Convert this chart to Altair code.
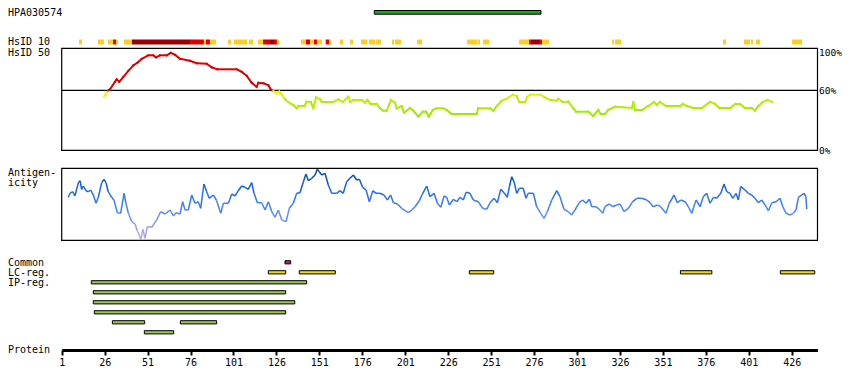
import altair as alt
import pandas as pd

# ---------------- data ----------------
protein_end = 441
antigen_start, antigen_end = 183, 280
antigen_name = "HPA030574"

hsid10_start = [11.1, 22.1, 28.0, 30.9, 32.6, 37.3, 41.9, 75.7, 83.8, 85.0, 87.3, 97.8, 101.3, 110.0,
                115.3, 118.2, 122.3, 124.6, 126.3, 140.3, 143.2, 145.6, 147.9, 149.6, 154.3, 154.9,
                156.6, 163.0, 168.9, 175.3, 179.9, 184.0, 193.3, 195.1, 207.9, 237.0, 243.4, 246.3,
                267.2, 273.1, 274.2, 279.5, 280.6, 321.4, 323.1, 386.0, 398.2, 402.3, 405.2, 426.2]
hsid10_end = [12.8, 25.6, 30.9, 32.6, 33.8, 41.9, 75.7, 83.8, 85.0, 87.3, 90.8, 99.6, 108.9, 112.4,
              118.2, 122.3, 124.6, 126.3, 127.5, 143.2, 145.6, 147.9, 149.6, 152.5, 154.9, 156.6,
              157.8, 164.8, 170.6, 178.7, 183.4, 186.9, 194.5, 198.5, 210.8, 242.8, 244.5, 249.8,
              273.1, 274.2, 279.5, 280.6, 284.7, 322.5, 326.6, 387.8, 401.7, 403.5, 407.6, 432.0]
hsid10_level = ["low", "low", "low", "mid", "low", "low", "high", "mid", "low", "mid", "low", "low", "low", "low",
                "low", "mid", "high", "mid", "low", "low", "mid", "low", "mid", "low", "low", "mid",
                "low", "low", "low", "low", "low", "low", "low", "low", "low", "low", "low", "low",
                "low", "mid", "high", "mid", "low", "low", "low", "low", "low", "low", "low", "low"]

hsid50_pos = [25.6, 28.1, 29.1, 32.0, 33.0, 34.5, 36.9, 39.8, 42.7, 45.0, 47.6, 51.4, 54.3, 55.9, 58.2,
              62.1, 64.5, 67.0, 69.9, 75.7, 79.6, 85.4, 88.3, 91.6, 102.9, 105.8, 108.7, 111.6, 114.5,
              115.5, 118.4, 121.3, 122.7, 124.2, 125.8, 127.7, 131.0, 133.9, 135.8, 137.8, 138.7, 142.4,
              143.6, 146.0, 147.5, 149.1, 151.4, 152.4, 159.1, 162.0, 164.6, 167.9, 168.9, 170.8, 175.7,
              177.6, 178.9, 180.9, 184.4, 186.3, 188.2, 190.2, 192.7, 195.0, 196.0, 198.9, 200.3, 203.8,
              205.7, 208.6, 211.2, 213.1, 214.7, 217.0, 219.3, 223.2, 225.1, 228.1, 242.6, 243.5, 250.4,
              252.3, 254.3, 257.2, 260.1, 263.6, 265.9, 267.4, 270.7, 272.1, 273.6, 279.5, 282.4, 285.3,
              289.2, 290.1, 292.7, 295.9, 298.9, 300.4, 307.6, 310.5, 313.4, 314.8, 317.3, 319.2, 323.1,
              332.9, 333.8, 334.8, 338.7, 342.5, 345.8, 347.4, 349.3, 352.8, 361.0, 362.5, 364.9, 368.7,
              373.6, 378.4, 381.4, 383.9, 390.1, 393.0, 395.9, 398.8, 402.7, 404.6, 406.6, 409.1, 411.8,
              414.7]
hsid50_val = [54, 60, 61, 68.5, 71, 68.5, 73.5, 79.5, 85, 87.5, 91.5, 95, 95, 93, 95,
              95, 97.5, 95.5, 91.5, 89.5, 87, 86.5, 83, 81, 81, 78.5, 74.5, 67.5, 63.5,
              67.5, 67, 65, 61, 59.5, 57, 59, 51, 47, 45.3, 42, 44.3, 44.3,
              48.6, 48.3, 42, 53, 51, 48.3, 48.3, 51, 48.3, 53.6, 48.3, 50.3, 50.3,
              47.6, 50.3, 46.3, 46.3, 42, 39.6, 39.6, 50.3, 47.6, 42, 44.3, 37.6, 42.3,
              39.6, 33.6, 38.6, 38.6, 33.6, 40.3, 42, 42, 40.3, 36.3, 36.3, 42, 42,
              39.6, 44.3, 49.6, 51.6, 55.6, 54.3, 48.3, 48.3, 53.6, 55.6, 55.6, 53, 50.3,
              49.6, 51.6, 48.3, 48.6, 42, 38.6, 38.6, 34.3, 40.3, 36.3, 36.3, 40.3, 43.6,
              42.3, 48.3, 40.3, 40.3, 44.3, 48.3, 45.3, 48.3, 44.3, 44.3, 46.3, 44.3, 42.3,
              42.3, 48.3, 46.3, 42.3, 42.3, 46.3, 46.3, 42.3, 42.3, 39.6, 44.3, 48.3, 50.3,
              48.3]

antig_pos = [4.8, 5.8, 7.4, 8.7, 10.7, 11.7, 12.6, 13.6, 15.1, 16.5, 17.9, 19.4, 21.0, 22.3, 24.3, 25.6,
             26.8, 28.1, 30.1, 31.4, 33.4, 35.3, 37.3, 38.4, 39.8, 41.8, 43.7, 45.0, 46.2, 47.0, 48.2,
             49.5, 50.8, 53.4, 56.3, 58.6, 61.1, 64.1, 66.0, 67.5, 69.9, 71.4, 72.8, 74.7, 76.7, 78.6,
             80.5, 81.9, 83.8, 85.4, 86.9, 89.3, 91.2, 93.6, 95.1, 98.0, 100.0, 101.9, 103.8, 105.8,
             107.7, 109.6, 111.6, 113.0, 114.9, 117.4, 119.4, 121.3, 123.3, 125.2, 127.1, 129.1, 131.6,
             133.5, 135.8, 137.8, 139.7, 141.7, 143.2, 144.6, 146.6, 148.5, 149.8, 151.0, 152.4, 154.3,
             156.2, 158.2, 161.1, 163.0, 164.9, 166.9, 168.8, 170.8, 172.7, 174.3, 176.2, 178.2, 180.1,
             182.1, 184.0, 186.3, 188.6, 190.6, 192.5, 194.1, 196.4, 198.9, 200.9, 202.8, 204.8, 206.7,
             209.2, 211.2, 213.5, 215.4, 217.8, 219.7, 221.7, 223.6, 225.1, 226.7, 229.0, 231.0, 232.9,
             234.8, 236.4, 238.7, 240.6, 243.5, 246.1, 248.4, 250.4, 252.7, 254.6, 256.6, 258.5, 260.4,
             261.6, 263.0, 264.3, 265.9, 267.4, 269.7, 271.3, 272.6, 275.6, 277.5, 279.9, 281.8, 283.7,
             286.3, 289.2, 291.1, 293.4, 295.9, 297.9, 299.8, 302.3, 304.3, 306.2, 308.2, 309.6, 312.1,
             314.4, 316.0, 317.3, 319.8, 321.8, 324.1, 326.0, 328.4, 330.9, 333.4, 335.8, 338.7, 341.6,
             343.5, 345.4, 347.8, 349.7, 352.8, 354.7, 357.5, 359.4, 361.4, 363.9, 365.8, 367.8, 370.3,
             372.6, 374.5, 376.5, 378.4, 380.4, 382.3, 384.7, 386.6, 388.2, 390.1, 391.7, 393.6, 394.9,
             396.3, 398.8, 400.7, 402.7, 404.6, 406.6, 408.5, 410.5, 412.4, 414.4, 416.9, 419.2, 420.8,
             422.7, 425.0, 426.9, 428.5, 429.9, 431.8, 433.2, 434.3, 434.7]
antig_val = [43, 47, 48.6, 44.3, 57.6, 59.6, 51, 54.3, 49.6, 48.6, 50.3, 45.3, 37, 43, 57.6, 61,
             57.6, 48.6, 43, 40.3, 27.6, 27, 47, 37, 27, 18.6, 16.3, 9.6, 5.3, 0.3, 11,
             2, 13.6, 13, 20.3, 28.6, 26.3, 30.3, 24.3, 27.6, 26.3, 38.6, 30.3, 30.3, 45.3, 37,
             38.6, 32, 56.3, 48.6, 42, 45.3, 39.6, 27, 37, 37, 46.3, 44.3, 49.6, 54.3,
             53, 51, 57.6, 47, 37.6, 37.6, 30.3, 38.6, 28.6, 23, 30.3, 20.3, 18.6,
             32, 37, 47, 47.6, 58.6, 66.3, 59.6, 62, 65.3, 71, 68.6, 65.3, 67,
             55.3, 47, 47, 49.6, 47, 58.6, 62, 65.3, 60.3, 61, 53, 50.3, 38.6,
             49.6, 47, 47, 45.3, 40.3, 45.3, 37.6, 36.3, 32, 29.6, 27.6, 30.3, 33.6,
             39.6, 47, 54.3, 43.6, 47, 37, 33, 44.3, 43, 35.3, 41, 38.6, 43,
             40.3, 48, 47, 40.3, 38.6, 32, 31, 37.6, 42, 37.6, 51, 47.6, 43,
             53.6, 63.6, 58.6, 47, 52, 52, 42, 47, 47, 33.6, 27, 22, 28.6,
             40.3, 49.6, 43.6, 31, 28.6, 25.3, 30.3, 37.6, 40.3, 37, 41, 33.6, 33.6,
             30.3, 27, 33.6, 36.3, 33.6, 35.3, 36.3, 28.6, 32, 38.6, 42, 42, 40.3,
             37.6, 33.6, 35.3, 33.6, 27, 37, 45.3, 37.6, 40.3, 38.6, 33.6, 27, 40.3,
             33.6, 43.6, 47, 37, 43, 42, 47, 56.3, 48.6, 47, 42, 47, 40.3,
             53.6, 50.3, 47, 45.3, 42, 37.6, 40.3, 35.3, 29.6, 37.6, 38.6, 42, 33.6,
             27, 25.3, 27, 30.3, 43, 45.3, 47, 43.6, 31]

common_start = [131.0]
common_end = [134.3]
lc_start = [121.3, 139.3, 238.3, 361.2, 419.4]
lc_end = [131.4, 160.3, 252.5, 379.5, 439.4]
ip_start = [18.2, 19.4, 19.4, 20.0, 30.5, 70.1, 49.1]
ip_end = [143.6, 131.4, 136.7, 131.4, 49.3, 91.2, 66.2]
ip_row = [2, 3, 4, 5, 6, 6, 7]

tick_values = [1, 26, 51, 76, 101, 126, 151, 176, 201, 226, 251, 276, 301, 326, 351, 376, 401, 426]

# ---------------- tables ----------------
def segments(pos, val):
    return pd.DataFrame({
        "r": pos[:-1], "r2": pos[1:], "v": val[:-1], "v2": val[1:],
        "c": [(a + b) / 2 for a, b in zip(val[:-1], val[1:])],
    })

hsid50_df = segments(hsid50_pos, hsid50_val)
antig_df = segments(antig_pos, antig_val)
hsid10_df = pd.DataFrame({"s": hsid10_start, "e": hsid10_end, "lvl": hsid10_level})
antigen_df = pd.DataFrame({"s": [antigen_start], "e": [antigen_end]})
box_df = pd.DataFrame({"s": [1], "e": [protein_end]})
track_df = pd.DataFrame({
    "s": common_start + lc_start + ip_start,
    "e": common_end + lc_end + ip_end,
    "row": [0] * len(common_start) + [1] * len(lc_start) + ip_row,
    "kind": ["common"] * len(common_start) + ["lc"] * len(lc_start) + ["ip"] * len(ip_start),
})

FONT = "DejaVu Sans Mono"
X_SCALE = alt.Scale(domain=[1, protein_end], range=[53.7, 809.5], nice=False, zero=False)
X_AXIS = alt.Axis(values=tick_values, title=None, grid=False, domainWidth=3, domainColor="black",
                  domainCap="butt", tickColor="black", tickWidth=2, tickSize=5, labelFont=FONT,
                  labelFontSize=10, labelColor="black", labelPadding=2, labelOverlap=False,
                  labelFlush=False)


def X(field):
    return alt.X(field, type="quantitative", scale=X_SCALE, axis=X_AXIS)


HS_SCALE = alt.Scale(domain=[0, 100], range=[142.3, 42.3], nice=False, zero=False)
AG_SCALE = alt.Scale(domain=[0, 72], range=[232.3, 160.3], nice=False, zero=False)
TR_SCALE = alt.Scale(domain=[0, 10], range=[254.3, 354.3], nice=False, zero=False)

layers = []

# antigen bar
layers.append(alt.Chart(antigen_df).mark_rect(fill="#22A51C", stroke="black", strokeWidth=1).encode(
    x=X("s"), x2="e", y=alt.value(2.5), y2=alt.value(6.2)))

# HsID 10 strip
layers.append(alt.Chart(hsid10_df).mark_rect().encode(
    x=X("s"), x2="e", y=alt.value(31.5), y2=alt.value(36.5),
    color=alt.Color("lvl:N", scale=alt.Scale(domain=["low", "mid", "high"],
                                             range=["#FFCC22", "#DD0000", "#990000"]), legend=None)))

# HsID 50 box, 60% line, curve
layers.append(alt.Chart(box_df).mark_rect(fill=None, stroke="black", strokeWidth=1.2).encode(
    x=X("s"), x2="e", y=alt.Y("lo:Q", scale=HS_SCALE, axis=None), y2="hi:Q"
).transform_calculate(lo="0", hi="102"))
layers.append(alt.Chart(box_df).mark_rule(color="black", strokeWidth=1.2).encode(
    x=X("s"), x2="e", y=alt.Y("m:Q", scale=HS_SCALE, axis=None)
).transform_calculate(m="60"))
layers.append(alt.Chart(hsid50_df).mark_rule(strokeWidth=2, strokeCap="square").encode(
    x=X("r"), x2="r2", y=alt.Y("v:Q", scale=HS_SCALE, axis=None), y2="v2",
    color=alt.Color("c:Q", scale=alt.Scale(domain=[33, 50, 59.99, 60, 100],
                                           range=["#99E600", "#B8F000", "#EEFF00", "#DD0000", "#DD0000"]),
                    legend=None)))

# Antigenicity box and curve
layers.append(alt.Chart(box_df).mark_rect(fill=None, stroke="black", strokeWidth=1.2).encode(
    x=X("s"), x2="e", y=alt.Y("lo:Q", scale=AG_SCALE, axis=None), y2="hi:Q"
).transform_calculate(lo="0", hi="72"))
layers.append(alt.Chart(antig_df).mark_rule(strokeWidth=1.5).encode(
    x=X("r"), x2="r2", y=alt.Y("v:Q", scale=AG_SCALE, axis=None), y2="v2",
    color=alt.Color("c:Q", scale=alt.Scale(domain=[0, 15, 30, 50, 72],
                                           range=["#C0B0FF", "#9494FF", "#4A88FF", "#1A68E8", "#0B4490"]),
                    legend=None)))

# feature tracks
layers.append(alt.Chart(track_df).mark_rect(stroke="black", strokeWidth=1).encode(
    x=X("s"), x2="e",
    y=alt.Y("lo:Q", scale=TR_SCALE, axis=None), y2="hi:Q",
    color=alt.Color("kind:N", scale=alt.Scale(domain=["common", "lc", "ip"],
                                              range=["#C41A8C", "#EED52E", "#9CC45A"]), legend=None)
).transform_calculate(lo="datum.row - 0.16", hi="datum.row + 0.16"))


def label(text, x, y, size=10, align="left"):
    return alt.Chart(pd.DataFrame({"t": [text]})).mark_text(
        font=FONT, fontSize=size, align=align, baseline="middle", color="black").encode(
        text="t:N", x=alt.value(x), y=alt.value(y))


for t, yy in [(antigen_name, 4.5), ("HsID 10", 34), ("HsID 50", 45), ("Antigen-", 164.5),
              ("icity", 175), ("Common", 254.5), ("LC-reg.", 264.5), ("IP-reg.", 274.5),
              ("Protein", 341.5)]:
    layers.append(label(t, 0, yy))
for t, yy in [("100%", 44.5), ("60%", 82.5), ("0%", 142.5)]:
    layers.append(label(t, 811, yy, size=9.5))

chart = alt.layer(*layers).resolve_scale(y="independent", color="independent").properties(
    width=834, height=342, background="white",
    padding={"left": 0, "top": 0, "right": 0, "bottom": 30},
    autosize=alt.AutoSizeParams(type="none"),
).configure_view(stroke=None).configure_axis(grid=False).configure_axisY(
    domain=False, ticks=False, labels=False)

chart.save("out.html", embed_options={"renderer": "svg", "actions": False})
